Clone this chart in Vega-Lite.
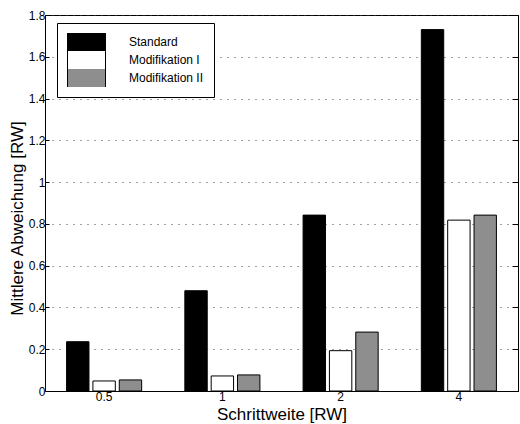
{
  "$schema": "https://vega.github.io/schema/vega-lite/v6.json",
  "width": 473,
  "height": 376,
  "autosize": "none",
  "padding": {"left": 45, "top": 15, "right": 2, "bottom": 33},
  "background": "white",
  "config": {
    "font": "Liberation Sans",
    "view": {"stroke": "black", "strokeWidth": 1},
    "axis": {
      "labelFont": "Liberation Sans",
      "titleFont": "Liberation Sans",
      "labelColor": "black",
      "titleColor": "black",
      "titleFontWeight": "normal",
      "domainColor": "black",
      "tickColor": "black",
      "labelFontSize": 12,
      "titleFontSize": 17
    }
  },
  "data": {
    "values": [
      {"s": "0.5", "m": "Standard", "v": 0.236},
      {"s": "0.5", "m": "Modifikation I", "v": 0.048},
      {"s": "0.5", "m": "Modifikation II", "v": 0.053},
      {"s": "1", "m": "Standard", "v": 0.48},
      {"s": "1", "m": "Modifikation I", "v": 0.072},
      {"s": "1", "m": "Modifikation II", "v": 0.077},
      {"s": "2", "m": "Standard", "v": 0.842},
      {"s": "2", "m": "Modifikation I", "v": 0.193},
      {"s": "2", "m": "Modifikation II", "v": 0.282},
      {"s": "4", "m": "Standard", "v": 1.73},
      {"s": "4", "m": "Modifikation I", "v": 0.818},
      {"s": "4", "m": "Modifikation II", "v": 0.842}
    ]
  },
  "encoding": {
    "x": {
      "field": "s",
      "type": "nominal",
      "sort": ["0.5", "1", "2", "4"],
      "scale": {"paddingInner": 0.365, "paddingOuter": 0.1825},
      "axis": {
        "title": "Schrittweite [RW]",
        "labelAngle": 0,
        "tickSize": -4,
        "labelPadding": 4,
        "titlePadding": 4,
        "domainWidth": 1
      }
    }
  },
  "layer": [
    {
      "mark": {"type": "bar", "stroke": "black", "strokeWidth": 1},
      "encoding": {
        "xOffset": {
          "field": "m",
          "type": "nominal",
          "sort": ["Standard", "Modifikation I", "Modifikation II"],
          "scale": {"paddingInner": 0.15}
        },
        "y": {
          "field": "v",
          "type": "quantitative",
          "scale": {"domain": [0, 1.8], "nice": false},
          "axis": {
            "title": "Mittlere Abweichung [RW]",
            "values": [0, 0.2, 0.4, 0.6, 0.8, 1, 1.2, 1.4, 1.6, 1.8],
            "format": "~g",
            "tickSize": -4,
            "labelPadding": 4,
            "titlePadding": 2,
            "titleY": 203,
            "grid": true,
            "gridColor": "#444",
            "gridDash": [1, 6],
            "gridWidth": 1
          }
        },
        "fill": {
          "field": "m",
          "type": "nominal",
          "sort": ["Standard", "Modifikation I", "Modifikation II"],
          "scale": {
            "domain": ["Standard", "Modifikation I", "Modifikation II"],
            "range": ["#000000", "#ffffff", "#8e8e8e"]
          },
          "legend": {
            "orient": "none",
            "legendX": 12,
            "legendY": 8,
            "title": null,
            "symbolType": "M-1,-0.5H1V0.5H-1Z",
            "symbolSize": 1444,
            "symbolStrokeColor": "black",
            "symbolStrokeWidth": 1,
            "symbolOpacity": 1,
            "clipHeight": 18,
            "rowPadding": 0,
            "strokeColor": "black",
            "fillColor": "white",
            "padding": 10,
            "labelFont": "Liberation Sans",
            "labelFontSize": 12,
            "labelColor": "black",
            "labelOffset": 23
          }
        }
      }
    },
    {
      "mark": {"type": "bar", "opacity": 0},
      "encoding": {
        "y": {
          "field": "v",
          "type": "quantitative",
          "scale": {"domain": [0, 1.8], "nice": false},
          "axis": {
            "orient": "right",
            "title": null,
            "labels": false,
            "grid": false,
            "values": [0, 0.2, 0.4, 0.6, 0.8, 1, 1.2, 1.4, 1.6, 1.8],
            "tickSize": -6
          }
        }
      }
    }
  ],
  "resolve": {"axis": {"y": "independent"}}
}
